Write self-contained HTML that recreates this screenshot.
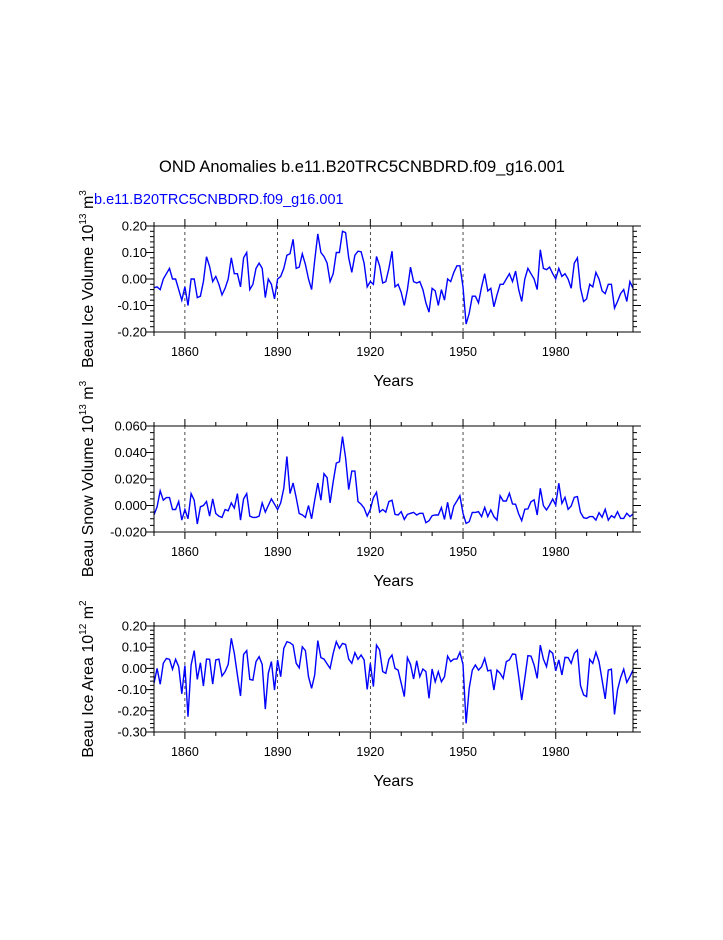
<!DOCTYPE html>
<html><head><meta charset="utf-8"><style>
body{margin:0;background:#fff;}
svg text{font-family:"Liberation Sans",sans-serif;}
</style></head><body>
<svg id="chart" width="723" height="935" xmlns="http://www.w3.org/2000/svg">
<text x="362" y="172" text-anchor="middle" font-size="16.5">OND Anomalies b.e11.B20TRC5CNBDRD.f09_g16.001</text>
<text x="94" y="204" font-size="14.5" fill="#0000ff">b.e11.B20TRC5CNBDRD.f09_g16.001</text>
</svg>
<script>
const startYear = 1850;
const endYear = 2005;
const xMajor = [1860, 1890, 1920, 1950, 1980];
const iceVolume = [-0.033,-0.03,-0.04,0.0,0.02,0.04,0.0,0.0,-0.04,-0.08,-0.03,-0.1,0.0,0.0,-0.07,-0.065,-0.01,0.084,0.047,-0.01,0.01,-0.02,-0.06,-0.035,0.0,0.08,0.02,0.02,-0.03,0.08,0.1,-0.04,-0.02,0.04,0.06,0.04,-0.07,0.0,-0.02,-0.075,0.0,0.01,0.04,0.09,0.095,0.15,0.04,0.045,0.095,0.055,0.0,-0.04,0.07,0.17,0.1,0.085,0.06,-0.01,0.02,0.1,0.1,0.18,0.175,0.08,0.025,0.09,0.105,0.103,0.06,-0.03,-0.01,-0.02,0.085,0.05,-0.015,-0.01,0.04,0.105,-0.03,-0.02,-0.05,-0.1,-0.04,0.045,-0.01,-0.015,-0.01,-0.04,-0.09,-0.125,-0.035,-0.045,-0.1,-0.04,-0.08,0.0,-0.01,0.025,0.05,0.05,-0.03,-0.17,-0.13,-0.065,-0.065,-0.09,-0.03,0.02,-0.045,-0.035,-0.105,-0.06,-0.02,-0.02,0.0,0.02,-0.01,0.03,-0.04,-0.085,0.0,0.04,0.02,0.0,-0.04,0.11,0.04,0.035,0.045,0.02,0.0,0.04,0.01,0.02,0.0,-0.035,0.06,0.08,-0.035,-0.085,-0.075,-0.02,-0.03,0.025,0.0,-0.045,-0.055,-0.02,-0.02,-0.11,-0.085,-0.055,-0.04,-0.085,-0.01,-0.035];
const snowVolume = [-0.007,-0.001,0.011,0.004,0.006,0.006,-0.003,-0.003,0.003,-0.011,-0.003,-0.01,0.009,0.004,-0.014,-0.001,0.0,0.003,-0.008,0.005,-0.006,-0.008,-0.009,-0.003,-0.004,0.002,-0.002,0.009,-0.011,0.005,0.009,-0.008,-0.009,-0.009,-0.008,0.002,-0.005,0.0,0.005,0.001,-0.003,0.002,0.013,0.037,0.009,0.017,0.006,-0.006,-0.007,-0.009,0.0,-0.01,0.004,0.017,0.004,0.024,0.021,0.002,0.018,0.032,0.033,0.052,0.036,0.012,0.026,0.026,0.003,0.001,-0.002,-0.008,-0.003,0.006,0.01,-0.005,-0.003,-0.005,0.003,0.004,
-0.0067,-0.0072,-0.0047,-0.0105,-0.0067,-0.0059,-0.0052,-0.0072,-0.0059,-0.0059,-0.013,-0.0115,-0.0077,-0.0072,-0.0072,-0.0016,-0.0105,0.0024,-0.0105,-0.0004,0.0034,0.0074,-0.0059,-0.0135,-0.0122,-0.0052,-0.0052,-0.0047,-0.0084,-0.0014,-0.0084,-0.0034,-0.0084,-0.011,0.0074,0.0034,0.0034,0.0092,0.0011,0.0009,-0.0064,-0.0115,-0.0029,-0.0026,0.0029,0.0042,-0.0072,0.013,-0.0001,-0.0034,0.0004,0.0049,0.0004,0.0168,0.0016,0.0062,-0.0029,-0.0004,0.0062,0.0067,-0.0052,-0.0092,-0.0097,-0.0084,-0.0084,-0.011,-0.0054,-0.0089,-0.0029,-0.011,-0.0077,-0.0092,-0.0047,-0.0097,-0.0097,-0.0059,-0.0084,-0.0064];
const iceArea = [-0.07,0.0,-0.075,0.024,0.047,0.043,-0.004,0.043,0.008,-0.12,0.013,-0.228,0.016,0.084,-0.052,0.027,-0.083,0.044,0.043,-0.074,0.04,0.044,-0.036,-0.015,0.019,0.142,0.071,-0.031,-0.13,0.066,0.084,-0.052,-0.055,0.032,0.055,0.019,-0.192,-0.023,0.032,-0.102,0.04,-0.039,0.095,0.126,0.121,0.11,0.024,0.003,0.102,0.084,-0.039,-0.094,-0.031,0.131,0.051,0.044,0.021,0.0,0.071,0.126,0.095,0.118,0.113,0.044,0.024,0.074,0.043,0.063,0.04,-0.099,0.024,-0.086,0.11,0.087,-0.015,-0.023,0.043,0.063,0.0,-0.008,-0.07,-0.133,0.051,0.019,-0.05,0.036,-0.039,-0.003,-0.015,-0.141,-0.003,-0.063,-0.015,-0.063,-0.039,0.058,0.032,0.044,0.044,0.076,0.019,-0.259,-0.094,-0.008,0.016,-0.008,0.008,0.047,-0.012,-0.008,-0.102,-0.008,-0.023,-0.047,0.032,0.04,0.068,0.066,-0.039,-0.149,-0.047,0.06,0.058,0.016,-0.047,0.11,0.044,0.008,0.084,0.071,-0.012,0.04,-0.031,0.052,0.051,0.024,0.071,0.087,-0.081,-0.125,-0.133,0.043,0.024,0.076,0.032,-0.055,-0.144,-0.008,-0.004,-0.217,-0.102,-0.044,-0.004,-0.066,-0.039,-0.008];
const ticks1 = ["0.20","0.10","0.00","-0.10","-0.20"];
const ticks2 = ["0.060","0.040","0.020","0.000","-0.020"];
const ticks3 = ["0.20","0.10","0.00","-0.10","-0.20","-0.30"];

const NS = "http://www.w3.org/2000/svg";
const svg = document.getElementById('chart');
const X0 = 154, X1 = 633;
function xs(yr){ return X0 + (yr - startYear) / (endYear - startYear) * (X1 - X0); }
function mk(tag, attrs, parent){ const e = document.createElementNS(NS, tag); for (const k in attrs) e.setAttribute(k, attrs[k]); (parent||svg).appendChild(e); return e; }

function panel(id, top, vals, ticks, ymax, ymin, minorStep, ylabelParts, exp){
  const bot = top + 106;
  const g = mk('g', {});
  
  
  const ys = v => top + (ymax - v) / (ymax - ymin) * (bot - top);
  xMajor.forEach(yr => {
    const l = mk('line', {x1: xs(yr), x2: xs(yr), y1: top, y2: bot, stroke: '#000', 'stroke-width': 0.7, 'stroke-dasharray': '3,3'}, g);
    
    
  });
  for (let yr = 1850; yr <= 2000; yr += 10) {
    const major = xMajor.includes(yr);
    const len = major ? 7 : 4;
    mk('line', {x1: xs(yr), x2: xs(yr), y1: bot, y2: bot + len, stroke: '#000', 'stroke-width': 1}, g);
    mk('line', {x1: xs(yr), x2: xs(yr), y1: top, y2: top - len, stroke: '#000', 'stroke-width': 1}, g);
  }
  xMajor.forEach(yr => {
    const t = mk('text', {x: xs(yr), y: bot + 24, 'text-anchor': 'middle', 'font-size': 12.5}, g);
    t.textContent = yr;
    
    
  });
  const nMinor = Math.round((ymax - ymin) / minorStep);
  for (let i = 0; i <= nMinor; i++) {
    const v = ymax - i * minorStep;
    const y = ys(v);
    mk('line', {x1: X0, x2: X0 - 4, y1: y, y2: y, stroke: '#000', 'stroke-width': 1}, g);
    mk('line', {x1: X1, x2: X1 + 4, y1: y, y2: y, stroke: '#000', 'stroke-width': 1}, g);
  }
  ticks.forEach(s => {
    const y = ys(parseFloat(s));
    mk('line', {x1: X0, x2: X0 - 8, y1: y, y2: y, stroke: '#000', 'stroke-width': 1}, g);
    mk('line', {x1: X1, x2: X1 + 8, y1: y, y2: y, stroke: '#000', 'stroke-width': 1}, g);
    const t = mk('text', {x: X0 - 7, y: y + 4.5, 'text-anchor': 'end', 'font-size': 13}, g);
    t.textContent = s;
    
    
  });
  const pts = vals.map((v, i) => xs(startYear + i).toFixed(1) + ',' + ys(v).toFixed(1)).join(' ');
  const pl = mk('polyline', {points: pts, fill: 'none', stroke: '#0000ff', 'stroke-width': 1.4}, g);
  
  
  const r = mk('rect', {x: X0, y: top, width: X1 - X0, height: bot - top, fill: 'none', stroke: '#000', 'stroke-width': 1}, g);
  
  
  const xt = mk('text', {x: (X0 + X1) / 2, y: bot + 54, 'text-anchor': 'middle', 'font-size': 16}, g);
  xt.textContent = 'Years';
  
  
  const cy = (top + bot) / 2;
  const yt = mk('text', {x: 0, y: 0, 'text-anchor': 'middle', 'font-size': 16, transform: 'translate(93,' + cy + ') rotate(-90)'}, g);
  
  
  const a = document.createElementNS(NS, 'tspan'); a.textContent = ylabelParts + ' 10'; yt.appendChild(a);
  const b = document.createElementNS(NS, 'tspan'); b.setAttribute('font-size', 10); b.setAttribute('dy', -7); b.textContent = exp; yt.appendChild(b);
  const c = document.createElementNS(NS, 'tspan'); c.setAttribute('dy', 7); c.textContent = ' m'; yt.appendChild(c);
  const d = document.createElementNS(NS, 'tspan'); d.setAttribute('font-size', 10); d.setAttribute('dy', -7); d.textContent = ylabelParts.indexOf('Area') >= 0 ? '2' : '3'; yt.appendChild(d);
}
panel('ice-volume', 226, iceVolume, ticks1, 0.2, -0.2, 0.02, 'Beau Ice Volume', '13');
panel('snow-volume', 426, snowVolume, ticks2, 0.06, -0.02, 0.005, 'Beau Snow Volume', '13');
panel('ice-area', 626, iceArea, ticks3, 0.2, -0.3, 0.02, 'Beau Ice Area', '12');
</script>
</body></html>
